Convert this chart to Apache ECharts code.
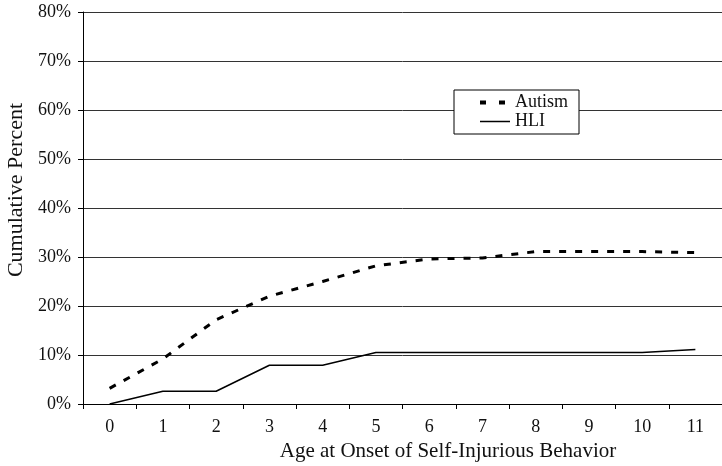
<!DOCTYPE html>
<html>
<head>
<meta charset="utf-8">
<script src="https://cdn.jsdelivr.net/npm/echarts@6/dist/echarts.min.js"></script>
<style>
  html, body { margin: 0; padding: 0; background: #fff; }
  #chart { width: 722px; height: 466px; }
</style>
</head>
<body>
<div id="chart"></div>
<script>
// edades (categorias del eje x)
var ages = ['0', '1', '2', '3', '4', '5', '6', '7', '8', '9', '10', '11'];
// porcentaje acumulado
var autism = [3.2, 9.2, 17.2, 22, 25, 28.2, 29.6, 29.8, 31.1, 31.1, 31.1, 30.9];
var hli = [0, 2.6, 2.6, 7.9, 7.9, 10.5, 10.5, 10.5, 10.5, 10.5, 10.5, 11.1];
var yTicks = [0, 80, 10]; // min, max, intervalo

var serif = '"Liberation Serif", "DejaVu Serif", serif';

var chart = echarts.init(document.getElementById('chart'));

var option = {
    animation: false,
    backgroundColor: '#fff',
    grid: { left: 83, top: 12, width: 644, height: 392 },
    legend: {
        orient: 'vertical',
        left: 454,
        top: 90,
        backgroundColor: '#fff',
        borderColor: '#000',
        borderWidth: 1,
        borderRadius: 0,
        padding: [3, 11, 3, 24],
        itemWidth: 30,
        itemHeight: 12,
        itemGap: 0,
        itemStyle: { opacity: 0 },
        textStyle: { fontFamily: serif, fontSize: 18, color: '#111', lineHeight: 19 },
        data: [
            { name: 'Autism', lineStyle: { width: 4, type: [6, 13] } },
            { name: 'HLI', lineStyle: { width: 1.5 } }
        ]
    },
    xAxis: {
        type: 'category',
        data: ages,
        boundaryGap: true,
        axisLine: { lineStyle: { color: '#000', width: 1 } },
        axisTick: { show: true, length: 5, lineStyle: { color: '#000' } },
        axisLabel: { fontFamily: serif, fontSize: 18, color: '#111', margin: 14 },
        splitLine: { show: false }
    },
    yAxis: {
        type: 'value',
        min: yTicks[0],
        max: yTicks[1],
        interval: yTicks[2],
        axisLine: { show: true, lineStyle: { color: '#000', width: 1 } },
        axisTick: { show: true, length: 5, lineStyle: { color: '#000' } },
        axisLabel: { fontFamily: serif, fontSize: 18, color: '#111', margin: 12, formatter: '{value}%' },
        splitLine: { lineStyle: { color: '#333', width: 1 } }
    },
    graphic: [
        {
            type: 'text',
            x: 448,
            y: 451,
            style: { text: 'Age at Onset of Self-Injurious Behavior', fontFamily: serif, fontSize: 21, fill: '#111', align: 'center', verticalAlign: 'middle' }
        },
        {
            type: 'text',
            x: 16,
            y: 190,
            rotation: Math.PI / 2,
            style: { text: 'Cumulative Percent', fontFamily: serif, fontSize: 22, fill: '#111', align: 'center', verticalAlign: 'middle' }
        }
    ],
    series: [
        {
            name: 'Autism',
            type: 'line',
            data: autism,
            symbol: 'none',
            lineStyle: { color: '#000', width: 3, type: [7, 9] },
            itemStyle: { color: '#000' }
        },
        {
            name: 'HLI',
            type: 'line',
            data: hli,
            symbol: 'none',
            lineStyle: { color: '#000', width: 1.5 },
            itemStyle: { color: '#000' }
        }
    ]
};

chart.setOption(option);
</script>
</body>
</html>
